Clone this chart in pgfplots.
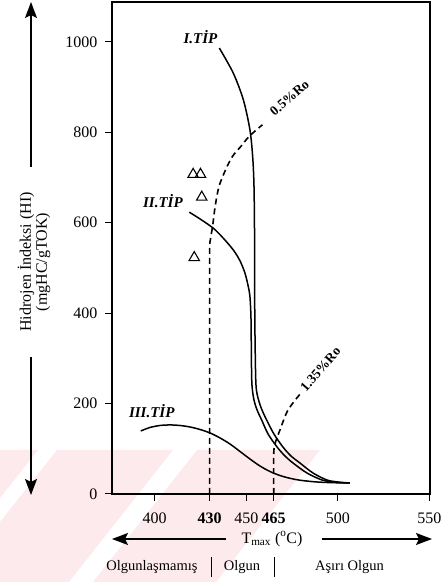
\documentclass[border=0pt]{standalone}
\usepackage{pgfplots}
\pgfplotsset{compat=1.18}
\usepackage{fontspec}
\setmainfont{Liberation Serif}
\usetikzlibrary{arrows.meta}
\definecolor{wmpink}{RGB}{253,234,237}
\begin{document}
\begin{tikzpicture}
\useasboundingbox (-112pt,-88pt) rectangle (334pt,494pt);
% faint background watermark bands
\fill[wmpink] (-112pt,44pt) -- (-74pt,44pt) -- (-112pt,-4pt) -- cycle;
\fill[wmpink] (-55pt,44pt) -- (61pt,44pt) -- (-43pt,-88pt) -- (-112pt,-88pt) -- (-112pt,-28pt) -- cycle;
\fill[wmpink] (85pt,44pt) -- (208pt,44pt) -- (104pt,-88pt) -- (-19pt,-88pt) -- cycle;
\begin{axis}[
  at={(0pt,0pt)}, anchor=south west,
  scale only axis, width=318pt, height=492pt,
  xmin=376.7, xmax=550.3, ymin=0, ymax=1088,
  xtick={400,430,450,465,500,550},
  xticklabels={400,\textbf{430},450,\textbf{465},500,550},
  ytick={0,200,400,600,800,1000},
  tick pos=left,
  tick align=outside,
  major tick length=7pt,
  tick style={black, line width=1pt},
  axis line style={line width=1.3pt},
  ticklabel style={font=\fontsize{16}{18}\selectfont},
  yticklabel style={xshift=-4pt},
  xticklabel style={yshift=-8pt},
  /pgf/number format/assume math mode=true,
  /pgf/number format/1000 sep={},
  clip=false,
]
% Type I
\addplot[smooth, line width=1.5pt] coordinates {
(435.3,986.1) (442.9,930.8) (448.4,871.7) (452.0,805.3) (453.5,745.6)
(454.2,683.6) (454.5,584.1) (454.6,429.2) (454.8,340.7) (455.3,241.2)
(456.7,208.0) (458.6,185.8) (461.1,163.7) (465.1,132.7) (470.0,104.0)
(474.4,84.1) (479.3,68.6) (486.4,46.5) (494.0,31.0) (500.1,26.5) (506.6,24.3)};
% Type II
\addplot[smooth, line width=1.5pt] coordinates {
(418.9,623.2) (424.7,608.4) (432.0,587.8) (437.3,566.4) (442.9,539.8)
(446.6,515.5) (449.3,488.3) (450.9,462.4) (452.0,436.5) (452.6,385)
(452.8,296.5) (453.1,241.2) (454.2,208.0) (455.9,185.8) (458.4,163.7)
(461.9,132.7) (466.8,104.0) (471.1,84.1) (475.5,68.6) (483.1,46.5)
(491.3,31.0) (497.3,26.5) (505.5,24.3)};
% Type III
\addplot[smooth, line width=1.5pt] coordinates {
(392.4,139.4) (397.4,147.1) (402.9,151.5) (408.4,152.7) (413.8,151.5)
(419.3,148.2) (424.7,142.7) (430.2,135.0) (435.7,123.9) (441.1,110.6)
(446.6,94.0) (452.0,77.4) (457.5,61.9) (462.9,49.8) (468.4,40.9)
(473.9,34.7) (479.3,30.5) (487.5,26.9) (495.7,25.2) (506.6,24.3)};
% 0.5 %Ro
\addplot[smooth, line width=1.6pt, dash pattern=on 6pt off 4pt] coordinates {
(430,0) (430,300) (430,530) (430.4,562) (431.6,591.4) (433.0,635.6)
(435.1,679.9) (438.7,716.8) (442.4,746.2) (447.0,768.4) (451.5,790.5) (458.8,816.4)};
% 1.35 %Ro
\addplot[smooth, line width=1.6pt, dash pattern=on 6pt off 4pt] coordinates {
(465,0) (465,90) (466,115) (468.4,141.6) (472.8,185.8) (480,224)};
% samples
\addplot[only marks, mark=triangle, mark size=6pt, mark options={line width=1.1pt, fill=white}] coordinates {
(421.0,706.9) (425.0,706.9) (425.7,656.4) (421.6,522.8)};

\node[font=\fontsize{15}{18}\selectfont\bfseries\itshape] at (axis cs:425.0,1010) {I.TİP};
\node[font=\fontsize{15}{18}\selectfont\bfseries\itshape] at (axis cs:404.5,648) {II.TİP};
\node[font=\fontsize{15}{18}\selectfont\bfseries\itshape] at (axis cs:398.4,183.6) {III.TİP};
\node[font=\fontsize{13.5}{15}\selectfont\bfseries, rotate=41] at (axis cs:473.6,876) {0.5\%Ro};
\node[font=\fontsize{13.5}{15}\selectfont\bfseries, rotate=49] at (axis cs:490.5,276) {1.35\%Ro};
\end{axis}
% y label and arrows
\node[rotate=90, align=center, font=\fontsize{16}{16}\selectfont] at (-78pt,232pt) {Hidrojen İndeksi (HI)\\(mgHC/gTOK)};
\draw[line width=1.4pt, -{Stealth[length=16pt,width=12pt,inset=3pt]}] (-81pt,327pt) -- (-81pt,492pt);
\draw[line width=1.4pt, -{Stealth[length=16pt,width=12pt,inset=3pt]}] (-81pt,137pt) -- (-81pt,-1pt);
% x label and arrows
\node[font=\fontsize{16}{18}\selectfont] at (160pt,-45pt) {T\textsubscript{max} (\textsuperscript{o}C)};
\draw[line width=1.4pt, -{Stealth[length=16pt,width=12pt,inset=3pt]}] (114pt,-45pt) -- (0pt,-45pt);
\draw[line width=1.4pt, -{Stealth[length=16pt,width=12pt,inset=3pt]}] (210pt,-45pt) -- (320pt,-45pt);
% maturity zones
\node[font=\fontsize{14.5}{17}\selectfont, anchor=east] at (89pt,-73pt) {Olgunlaşmamış};
\draw[line width=1pt] (99pt,-83pt) -- (99pt,-63pt);
\node[font=\fontsize{14.5}{17}\selectfont] at (130pt,-73pt) {Olgun};
\draw[line width=1pt] (162pt,-83pt) -- (162pt,-63pt);
\node[font=\fontsize{14.5}{17}\selectfont] at (237.5pt,-73pt) {Aşırı Olgun};
\end{tikzpicture}
\end{document}
